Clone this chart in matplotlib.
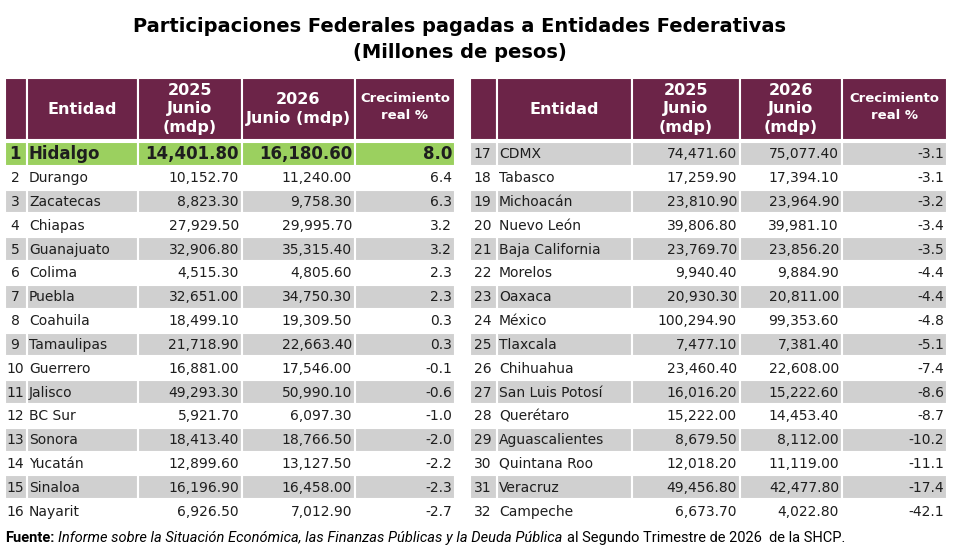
import matplotlib
matplotlib.use("Agg")
import matplotlib.pyplot as plt
from matplotlib.patches import Rectangle

plt.rcParams['font.family'] = ['DejaVu Sans']

entidades = ["Hidalgo", "Durango", "Zacatecas", "Chiapas", "Guanajuato", "Colima",
             "Puebla", "Coahuila", "Tamaulipas", "Guerrero", "Jalisco", "BC Sur",
             "Sonora", "Yucatán", "Sinaloa", "Nayarit",
             "CDMX", "Tabasco", "Michoacán", "Nuevo León", "Baja California",
             "Morelos", "Oaxaca", "México", "Tlaxcala", "Chihuahua",
             "San Luis Potosí", "Querétaro", "Aguascalientes", "Quintana Roo",
             "Veracruz", "Campeche"]
junio_2025 = [14401.80, 10152.70, 8823.30, 27929.50, 32906.80, 4515.30,
              32651.00, 18499.10, 21718.90, 16881.00, 49293.30, 5921.70,
              18413.40, 12899.60, 16196.90, 6926.50,
              74471.60, 17259.90, 23810.90, 39806.80, 23769.70,
              9940.40, 20930.30, 100294.90, 7477.10, 23460.40,
              16016.20, 15222.00, 8679.50, 12018.20, 49456.80, 6673.70]
junio_2026 = [16180.60, 11240.00, 9758.30, 29995.70, 35315.40, 4805.60,
              34750.30, 19309.50, 22663.40, 17546.00, 50990.10, 6097.30,
              18766.50, 13127.50, 16458.00, 7012.90,
              75077.40, 17394.10, 23964.90, 39981.10, 23856.20,
              9884.90, 20811.00, 99353.60, 7381.40, 22608.00,
              15222.60, 14453.40, 8112.00, 11119.00, 42477.80, 4022.80]
crecimiento = [8.0, 6.4, 6.3, 3.2, 3.2, 2.3, 2.3, 0.3, 0.3, -0.1, -0.6, -1.0,
               -2.0, -2.2, -2.3, -2.7,
               -3.1, -3.1, -3.2, -3.4, -3.5, -4.4, -4.4, -4.8, -5.1, -7.4,
               -8.6, -8.7, -10.2, -11.1, -17.4, -42.1]

MAROON = "#6c2448"
GREEN = "#9bd05f"
GREY = "#d0d0d0"
TXT = "#1e1e1e"

fig = plt.figure(figsize=(9.62, 5.52), dpi=100)
ax = fig.add_axes([0, 0, 1, 1])
ax.set_xlim(0, 962)
ax.set_ylim(552, 0)
ax.axis("off")

ax.text(460, 27, "Participaciones Federales pagadas a Entidades Federativas",
        ha="center", va="center", fontsize=14, fontweight="bold")
ax.text(460, 53, "(Millones de pesos)", ha="center", va="center",
        fontsize=14, fontweight="bold")


def cell(x0, x1, y0, y1, color):
    ax.add_patch(Rectangle((x0, y0), x1 - x0, y1 - y0, facecolor=color,
                           edgecolor="white", linewidth=1.5))


def draw_table(cols, idx, header_2026):
    top, hbot = 78, 140
    rtop, rbot = 142, 523
    for i in range(len(cols) - 1):
        cell(cols[i], cols[i + 1], top, hbot, MAROON)
    hx = [(cols[1] + cols[2]) / 2, (cols[2] + cols[3]) / 2,
          (cols[3] + cols[4]) / 2, (cols[4] + cols[5]) / 2]
    hs = dict(ha="center", va="center", color="white", fontweight="bold")
    ax.text(hx[0], 109, "Entidad", fontsize=11.5, **hs)
    ax.text(hx[1], 109, "2025\nJunio\n(mdp)", fontsize=11.5,
            linespacing=1.3, **hs)
    ax.text(hx[2], 109, header_2026, fontsize=11.5, linespacing=1.3, **hs)
    ax.text(hx[3], 107, "Crecimiento\nreal %", fontsize=9.5,
            linespacing=1.4, **hs)
    n = len(idx)
    h = (rbot - rtop) / n
    for r, k in enumerate(idx):
        y0 = rtop + r * h
        y1 = y0 + h
        ym = (y0 + y1) / 2 + 0.5
        if k == 0:
            color = GREEN
        elif k % 2 == 0:
            color = GREY
        else:
            color = "white"
        if color != "white":
            for i in range(len(cols) - 1):
                cell(cols[i], cols[i + 1], y0, y1, color)
        bold = k == 0
        fs = 12 if bold else 10
        fw = "bold" if bold else "normal"
        ts = dict(va="center", fontsize=fs, fontweight=fw, color=TXT)
        ax.text((cols[0] + cols[1]) / 2 - 1, ym, str(k + 1), ha="center", **ts)
        ax.text(cols[1] + 2, ym, entidades[k], ha="left", **ts)
        ax.text(cols[3] - 3, ym, f"{junio_2025[k]:,.2f}", ha="right", **ts)
        ax.text(cols[4] - 3, ym, f"{junio_2026[k]:,.2f}", ha="right", **ts)
        ax.text(cols[5] - 3, ym, f"{crecimiento[k]:.1f}", ha="right", **ts)


draw_table([5, 27, 138, 242, 355, 455], range(0, 16), "2026\nJunio (mdp)")
draw_table([470, 497, 632, 740, 842, 947], range(16, 32), "2026\nJunio\n(mdp)")

fs_note = 10.5
t1 = ax.text(5, 538, "Fuente:", ha="left", va="center", fontsize=fs_note,
             fontweight="bold", family="Roboto")
fig.canvas.draw()
r = fig.canvas.get_renderer()
x = t1.get_window_extent(r).x1 + 4
t2 = ax.text(x, 552 - 538, "Informe sobre la Situación Económica, las Finanzas Públicas y la Deuda Pública",
             ha="left", va="center", fontsize=fs_note, style="italic",
             family="Roboto", transform=None)
x = t2.get_window_extent(r).x1 + 4
ax.text(x, 552 - 538, "al Segundo Trimestre de 2026  de la SHCP.", ha="left",
        va="center", fontsize=fs_note, family="Roboto", transform=None)

fig.savefig("out.png", dpi=100)
